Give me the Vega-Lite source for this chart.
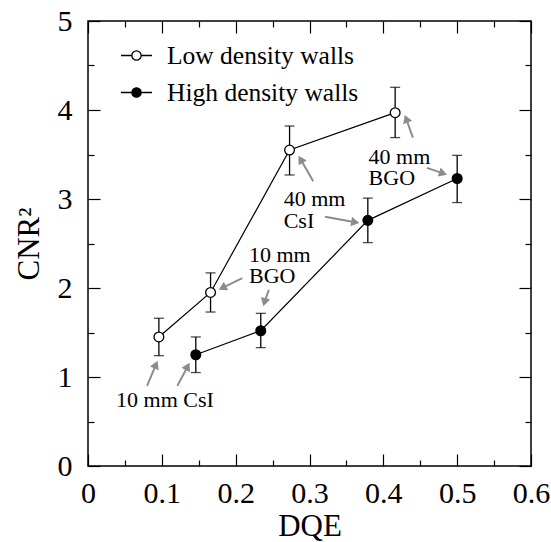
{
  "$schema": "https://vega.github.io/schema/vega-lite/v6.json",
  "autosize": "none",
  "width": 443,
  "height": 445,
  "padding": {"left": 88, "top": 21, "right": 20, "bottom": 76},
  "background": "white",
  "config": {
    "view": {"stroke": "black", "strokeWidth": 1.5},
    "axis": {
      "labelFont": "Liberation Serif", "titleFont": "Liberation Serif",
      "labelColor": "black", "titleColor": "black", "tickColor": "black",
      "tickWidth": 1.2, "domain": false, "grid": false,
      "titleFontWeight": "normal", "labelFontSize": 30, "titleFontSize": 31
    }
  },
  "datasets": {
    "pts": [
      {"series": "Low density walls", "x": 0.096, "y": 1.45, "lo": 1.24, "hi": 1.66},
      {"series": "Low density walls", "x": 0.166, "y": 1.95, "lo": 1.73, "hi": 2.17},
      {"series": "Low density walls", "x": 0.273, "y": 3.55, "lo": 3.27, "hi": 3.82},
      {"series": "Low density walls", "x": 0.416, "y": 3.97, "lo": 3.69, "hi": 4.255},
      {"series": "High density walls", "x": 0.146, "y": 1.25, "lo": 1.05, "hi": 1.45},
      {"series": "High density walls", "x": 0.234, "y": 1.52, "lo": 1.33, "hi": 1.715},
      {"series": "High density walls", "x": 0.379, "y": 2.76, "lo": 2.51, "hi": 3.01},
      {"series": "High density walls", "x": 0.5, "y": 3.23, "lo": 2.96, "hi": 3.49}
    ],
    "arrows": [
      {"x": 0.080, "y": 0.90, "xh": 0.092, "yh": 1.139, "angle": 23},
      {"x": 0.121, "y": 0.90, "xh": 0.135, "yh": 1.119, "angle": 28},
      {"x": 0.209, "y": 2.11, "xh": 0.182, "yh": 2.002, "angle": 243},
      {"x": 0.245, "y": 1.98, "xh": 0.239, "yh": 1.840, "angle": 196},
      {"x": 0.305, "y": 3.20, "xh": 0.288, "yh": 3.446, "angle": 330},
      {"x": 0.321, "y": 2.80, "xh": 0.362, "yh": 2.739, "angle": 100},
      {"x": 0.440, "y": 3.69, "xh": 0.431, "yh": 3.902, "angle": 339},
      {"x": 0.459, "y": 3.35, "xh": 0.481, "yh": 3.288, "angle": 108}
    ],
    "labels": [
      {"x": 0.038, "y": 0.74, "text": ["10 mm CsI"]},
      {"x": 0.218, "y": 2.376, "text": ["10 mm", "BGO"]},
      {"x": 0.265, "y": 3.0, "text": ["40 mm", "CsI"]},
      {"x": 0.380, "y": 3.475, "text": ["40 mm", "BGO"]}
    ]
  },
  "resolve": {"axis": {"x": "independent", "y": "independent"}},
  "layer": [
    {
      "data": {"name": "pts"},
      "mark": {"type": "line", "color": "black", "strokeWidth": 1.2},
      "encoding": {
        "x": {"field": "x", "type": "quantitative", "scale": {"domain": [0, 0.6], "nice": false, "zero": false},
              "axis": {"orient": "bottom", "values": [0, 0.1, 0.2, 0.3, 0.4, 0.5, 0.6], "format": "~g", "tickSize": -12, "labelPadding": 24, "labelFlush": false, "title": "DQE", "titlePadding": 3}},
        "y": {"field": "y", "type": "quantitative", "scale": {"domain": [0, 5], "nice": false, "zero": false},
              "axis": {"orient": "left", "values": [0, 1, 2, 3, 4, 5], "format": "d", "tickSize": -12, "labelPadding": 28, "labelFlush": false, "title": "CNR²", "titlePadding": 12}},
        "detail": {"field": "series"}
      }
    },
    {
      "data": {"name": "pts"},
      "mark": {"type": "rule", "color": "black", "strokeWidth": 1.3},
      "encoding": {
        "x": {"field": "x", "type": "quantitative", "scale": {"domain": [0, 0.6], "nice": false, "zero": false},
              "axis": {"orient": "bottom", "values": [0.05, 0.15, 0.25, 0.35, 0.45, 0.55], "tickSize": -6, "labels": false, "title": null}},
        "y": {"field": "lo", "type": "quantitative", "scale": {"domain": [0, 5], "nice": false, "zero": false},
              "axis": {"orient": "left", "values": [0.5, 1.5, 2.5, 3.5, 4.5], "tickSize": -6, "labels": false, "title": null}},
        "y2": {"field": "hi"}
      }
    },
    {
      "data": {"name": "pts"},
      "mark": {"type": "tick", "color": "black", "orient": "horizontal", "size": 10, "thickness": 1.3},
      "encoding": {
        "x": {"field": "x", "type": "quantitative", "scale": {"domain": [0, 0.6], "nice": false, "zero": false},
              "axis": {"orient": "top", "values": [0, 0.1, 0.2, 0.3, 0.4, 0.5, 0.6], "tickSize": -12, "labels": false, "title": null}},
        "y": {"field": "lo", "type": "quantitative", "scale": {"domain": [0, 5], "nice": false, "zero": false},
              "axis": {"orient": "right", "values": [0, 1, 2, 3, 4, 5], "tickSize": -12, "labels": false, "title": null}}
      }
    },
    {
      "data": {"name": "pts"},
      "mark": {"type": "tick", "color": "black", "orient": "horizontal", "size": 10, "thickness": 1.3},
      "encoding": {
        "x": {"field": "x", "type": "quantitative", "scale": {"domain": [0, 0.6], "nice": false, "zero": false},
              "axis": {"orient": "top", "values": [0.05, 0.15, 0.25, 0.35, 0.45, 0.55], "tickSize": -6, "labels": false, "title": null}},
        "y": {"field": "hi", "type": "quantitative", "scale": {"domain": [0, 5], "nice": false, "zero": false},
              "axis": {"orient": "right", "values": [0.5, 1.5, 2.5, 3.5, 4.5], "tickSize": -6, "labels": false, "title": null}}
      }
    },
    {
      "data": {"name": "pts"},
      "mark": {"type": "circle", "size": 95, "stroke": "black", "strokeWidth": 1.3, "opacity": 1},
      "encoding": {
        "x": {"field": "x", "type": "quantitative", "axis": null},
        "y": {"field": "y", "type": "quantitative", "axis": null},
        "fill": {"field": "series", "type": "nominal",
                 "scale": {"domain": ["Low density walls", "High density walls"], "range": ["white", "black"]},
                 "legend": {"orient": "none", "legendX": 32, "legendY": 18, "title": null, "padding": 0,
                            "symbolType": "M-1,0L-0.3,0M0.3,0L1,0M0.3,0A0.3,0.3,0,1,1,-0.3,0A0.3,0.3,0,1,1,0.3,0Z",
                            "symbolSize": 961, "symbolStrokeColor": "black", "symbolStrokeWidth": 1.3,
                            "labelFont": "Liberation Serif", "labelFontSize": 25.5, "labelColor": "black",
                            "labelLimit": 0, "labelOffset": 14, "rowPadding": 7}}
      }
    },
    {
      "data": {"name": "arrows"},
      "mark": {"type": "rule", "color": "#8c8c8c", "strokeWidth": 2},
      "encoding": {
        "x": {"field": "x", "type": "quantitative", "axis": null},
        "y": {"field": "y", "type": "quantitative", "axis": null},
        "x2": {"field": "xh"},
        "y2": {"field": "yh"}
      }
    },
    {
      "data": {"name": "arrows"},
      "mark": {"type": "point", "shape": "triangle-up", "filled": true, "color": "#8c8c8c", "size": 90, "opacity": 1},
      "encoding": {
        "x": {"field": "xh", "type": "quantitative", "axis": null},
        "y": {"field": "yh", "type": "quantitative", "axis": null},
        "angle": {"field": "angle", "type": "quantitative", "scale": null}
      }
    },
    {
      "data": {"name": "labels"},
      "mark": {"type": "text", "font": "Liberation Serif", "fontSize": 22, "lineHeight": 21.5, "align": "left", "baseline": "middle", "color": "black"},
      "encoding": {
        "x": {"field": "x", "type": "quantitative", "axis": null},
        "y": {"field": "y", "type": "quantitative", "axis": null},
        "text": {"field": "text"}
      }
    }
  ]
}
